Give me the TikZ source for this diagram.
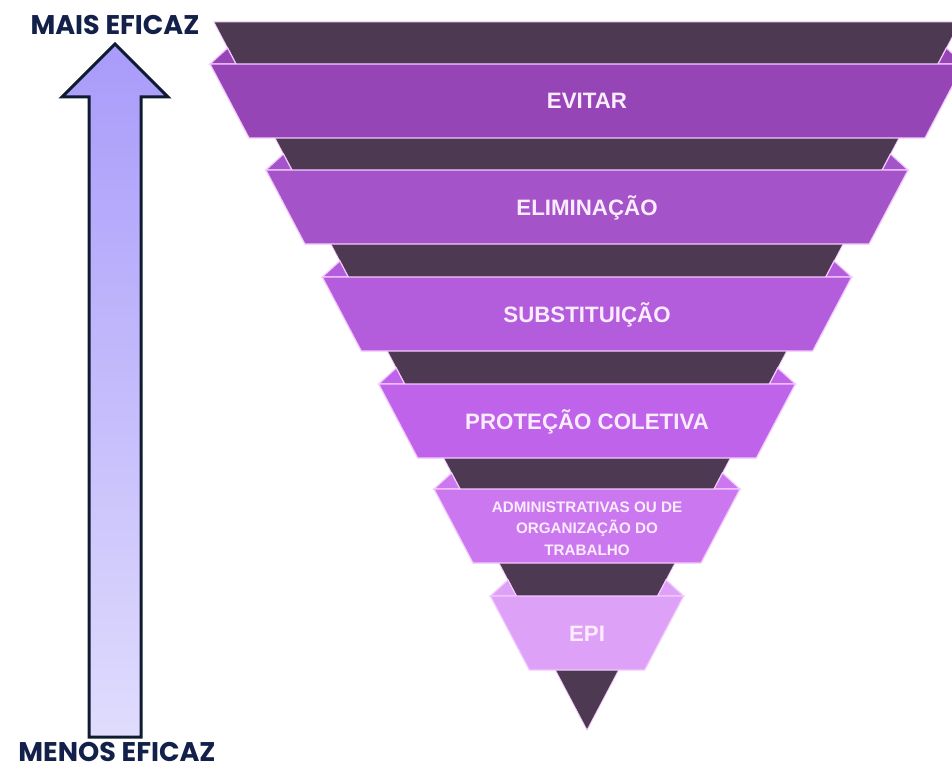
\documentclass[tikz,border=0pt]{standalone}
\usepackage{fontspec}
\setmainfont{Liberation Sans}
\newfontfamily\labelfont{Poppins}
\definecolor{darkback}{HTML}{4D3A52}
\definecolor{bA}{HTML}{9645B6}
\definecolor{bB}{HTML}{A553C9}
\definecolor{bC}{HTML}{B35DDD}
\definecolor{bD}{HTML}{BF63EA}
\definecolor{bE}{HTML}{CB77F0}
\definecolor{bF}{HTML}{DEA1F8}
\definecolor{edge}{HTML}{F4C8FF}
\definecolor{bandtext}{HTML}{FCECFF}
\definecolor{navy}{HTML}{13204A}
\definecolor{arrline}{HTML}{0E1B30}
\definecolor{arrtop}{HTML}{A89BFA}
\definecolor{arrbot}{HTML}{E0DCFD}
\tikzset{
  bandshape/.style={fill=#1, draw=edge, line width=1.2pt, line join=miter},
  bandlabel/.style={text=bandtext, font=\bfseries\fontsize{22.3}{26}\selectfont, inner sep=0pt, anchor=base},
  smalllabel/.style={text=bandtext, font=\bfseries\fontsize{15.2}{21.5}\selectfont, inner sep=0pt, align=center, anchor=center},
  sidelabel/.style={text=navy, font=\labelfont\bfseries\fontsize{27}{30}\selectfont, inner sep=0pt, anchor=center}
}
\begin{document}
\begin{tikzpicture}[x=1pt,y=-1pt]
\useasboundingbox (0,0) rectangle (952,770);
\clip (0,0) rectangle (952,770);
% dark inverted triangle
\fill[darkback, draw=edge, line width=0.8pt] ({587-0.527*708},22) -- ({587+0.527*708},22) -- (587,730) -- cycle;
% bands
\foreach \t/\c in {64/bA,170/bB,277/bC,384/bD,489/bE,596/bF}{
  \pgfmathsetmacro\X{587-0.527*(730-\t)}
  \pgfmathsetmacro\B{\t+74}
  \pgfmathsetmacro\XB{587-0.527*(730-\B)}
  \pgfmathsetmacro\T{\t-16}
  \fill[bandshape=\c] ({\X-26},\t) -- ({\X-8.4},\T) -- (\X,\t) -- cycle;
  \fill[bandshape=\c] ({1174-\X+26},\t) -- ({1174-\X+8.4},\T) -- ({1174-\X},\t) -- cycle;
  \fill[bandshape=\c] ({\X-26},\t) -- ({1174-\X+26},\t) -- ({1174-\XB+26},\B) -- ({\XB-26},\B) -- cycle;
}
% band labels
\node[bandlabel] (evitar) at (587,109) {EVITAR};
\node[bandlabel] (elim) at (587,215) {ELIMINAÇÃO};
\node[bandlabel] (subst) at (587,322) {SUBSTITUIÇÃO};
\node[bandlabel] (protec) at (587,429) {PROTEÇÃO COLETIVA};
\node[smalllabel] (admin) at (587,528.5) {ADMINISTRATIVAS OU DE\\ORGANIZAÇÃO DO\\TRABALHO};
\node[bandlabel] (epi) at (587,641) {EPI};
% arrow
\shade[top color=arrtop, bottom color=arrbot] (89,737) -- (89,97) -- (62,97) -- (115,44) -- (168,97) -- (141,97) -- (141,737) -- cycle;
\draw[arrline, line width=3pt, line join=miter] (89,737) -- (89,97) -- (62,97) -- (115,44) -- (168,97) -- (141,97) -- (141,737) -- cycle;
% side labels
\node[sidelabel] (mais) at (115,24.5) {MAIS EFICAZ};
\node[sidelabel] (menos) at (117,752) {MENOS EFICAZ};
\end{tikzpicture}
\end{document}
